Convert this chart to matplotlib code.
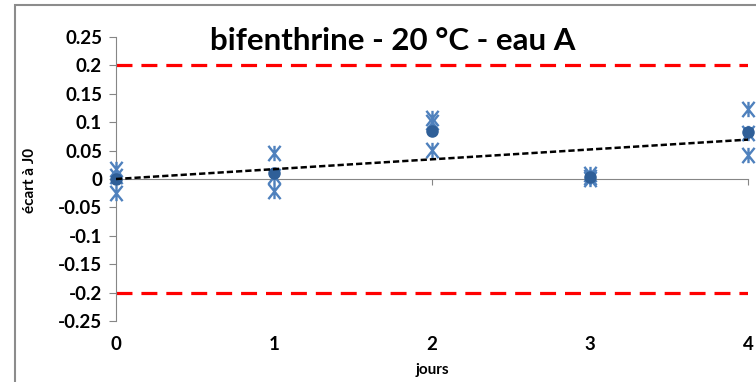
import numpy as np
import matplotlib
matplotlib.use("Agg")
import matplotlib.pyplot as plt
from matplotlib.path import Path
from matplotlib.patches import Rectangle

plt.rcParams['font.family'] = ['Lato', 'DejaVu Sans']

# Replicate deviations from day 0, per day
days = [0, 1, 2, 3, 4]
replicates = [
    [0.018, 0.006, -0.024],
    [0.046, 0.006, -0.022],
    [0.108, 0.100, 0.051],
    [0.008, 0.004, 0.000],
    [0.123, 0.081, 0.042],
]
means = [0.000, 0.010, 0.085, 0.004, 0.082]
limit = 0.2
ytick_vals = [0.25, 0.2, 0.15, 0.1, 0.05, 0, -0.05, -0.1, -0.15, -0.2, -0.25]
ytick_labels = ["0.25", "0.2", "0.15", "0.1", "0.05", "0", "-0.05", "-0.1", "-0.15", "-0.2", "-0.25"]

blue = "#4F81BD"
dark_blue = "#2F5F98"
grey = "#868686"

# Excel-like star marker: an X plus a vertical bar
def star_marker():
    verts = [(0, -1), (0, 1), (-0.8, -1), (0.8, 1), (-0.8, 1), (0.8, -1)]
    codes = [Path.MOVETO, Path.LINETO] * 3
    return Path(verts, codes)

fig = plt.figure(figsize=(7.56, 3.82), dpi=100)
ax = fig.add_axes([116 / 756, 61 / 382, 632 / 756, 284 / 382])

# outer chart frame
fig.patches.append(Rectangle((15 / 756, -0.1), 1.2, (377 / 382) + 0.1, transform=fig.transFigure,
                             fill=False, edgecolor="#8C8C8C", lw=1.5, clip_on=False))

for d in [limit, -limit]:
    ax.axhline(d, color="red", lw=2.3, linestyle=(0, (5, 2.8)), zorder=1)

star = star_marker()
for d, reps in zip(days, replicates):
    ax.plot([d] * len(reps), reps, linestyle="none", marker=star, markersize=11,
            markeredgewidth=1.7, markeredgecolor=blue, color=blue, clip_on=False, zorder=3)

ax.plot(days, means, linestyle="none", marker="o", markersize=8, color=dark_blue,
        clip_on=False, zorder=4)

# linear trend on the daily means, forced through the origin
x = np.array(days, dtype=float)
y = np.array(means)
slope = (x * y).sum() / (x * x).sum()
xs = np.array([0, 4])
ax.plot(xs, slope * xs, color="black", lw=1.8, linestyle=(0, (2.5, 1.2)), zorder=5)

ax.set_xlim(0, 4)
ax.set_ylim(-0.25, 0.25)
ax.set_yticks(ytick_vals)
ax.set_yticklabels(ytick_labels, fontsize=13.5, fontweight="bold")
ax.tick_params(axis="y", length=5, color=grey, pad=5)

for s in ["top", "right"]:
    ax.spines[s].set_visible(False)
ax.spines["left"].set_color(grey)
ax.spines["bottom"].set_position(("data", 0))
ax.spines["bottom"].set_color(grey)
ax.set_xticks(days)
ax.tick_params(axis="x", length=4, color=grey, labelbottom=False)

sec = ax.secondary_xaxis(0.0)
sec.set_xticks(days)
sec.set_xticklabels([str(d) for d in days], fontsize=13.5, fontweight="bold")
sec.tick_params(length=0, pad=11)
sec.spines["bottom"].set_visible(False)
sec.set_xlabel("jours", fontsize=11, fontweight="bold", labelpad=7)

fig.text(30 / 756, 1 - 180 / 382, "écart à J0", rotation=90, fontsize=11,
         fontweight="bold", ha="center", va="center")
fig.text(393 / 756, 1 - 41 / 382, "bifenthrine - 20 °C - eau A", fontsize=22.5,
         fontweight="bold", ha="center", va="center")

fig.savefig("out.png", dpi=100)
